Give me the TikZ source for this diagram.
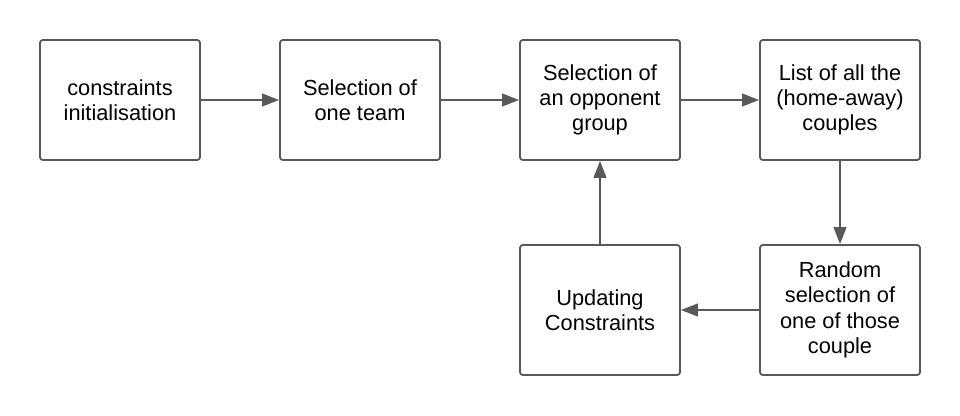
\documentclass[tikz,border=0pt]{standalone}
\usepackage{fontspec}
\setmainfont{Liberation Sans}
\usetikzlibrary{arrows.meta}
\begin{document}
\begin{tikzpicture}[
    stepbox/.style={rectangle, rounded corners=2pt, minimum width=4cm, minimum height=3cm, align=center, draw=linegray, line width=1.3pt, fill=white, font=\fontsize{15.5}{18}\selectfont},
    lowbox/.style={stepbox, minimum height=3.25cm},
    arrow/.style={line width=1.3pt, draw=linegray, -{Triangle[length=12pt, width=9pt]}}
]
\definecolor{linegray}{HTML}{595959}
\useasboundingbox (0,0) rectangle (24,10.4);

% Top row
\node[stepbox] (init) at (3,7.9) {constraints\\initialisation};
\node[stepbox] (team) at (9,7.9) {Selection of\\one team};
\node[stepbox] (group) at (15,7.9) {Selection of\\an opponent\\group};
\node[stepbox] (list) at (21,7.9) {List of all the\\(home-away)\\couples};

% Bottom row
\node[lowbox] (random) at (21,2.65) {Random\\selection of\\one of those\\couple};
\node[lowbox] (update) at (15,2.65) {Updating\\Constraints};

% Arrows
\draw[arrow] (init.east) -- (team.west);
\draw[arrow] (team.east) -- (group.west);
\draw[arrow] (group.east) -- (list.west);
\draw[arrow] (list.south) -- (random.north);
\draw[arrow] (random.west) -- (update.east);
\draw[arrow] (update.north) -- (group.south);

\end{tikzpicture}
\end{document}
